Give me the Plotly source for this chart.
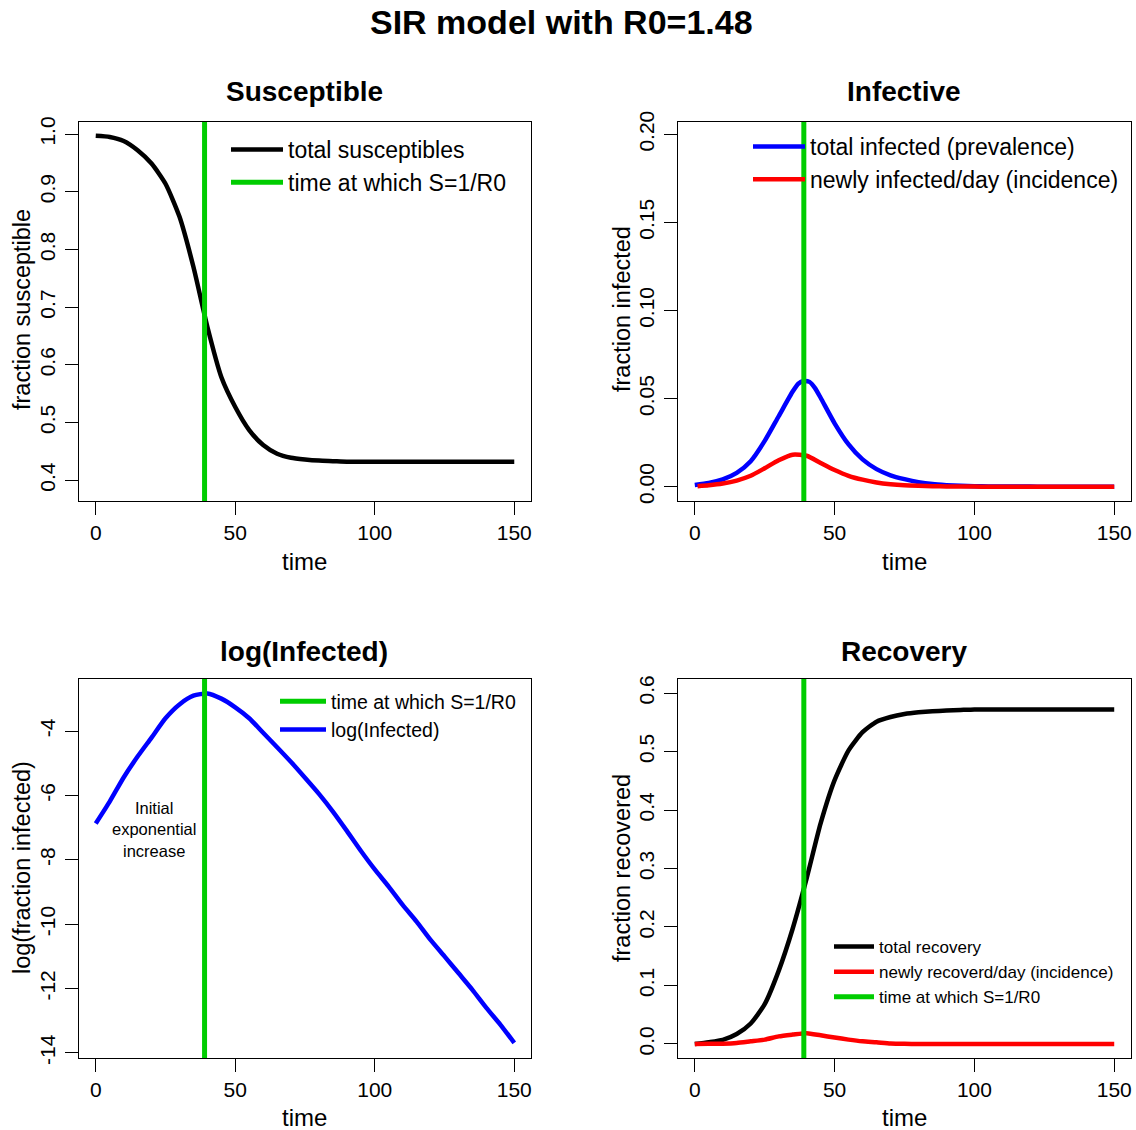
import plotly.graph_objects as go

FONT = "Liberation Sans, Arial, sans-serif"

# ---------------- data ----------------
t_star = 39  # time at which S = 1/R0

t_S = [0, 5, 10, 15, 20, 25, 30, 35, 40, 45, 50, 55, 60, 65, 70, 75, 80, 85, 90, 95,
       100, 105, 110, 115, 120, 125, 130, 135, 140, 145, 150]
susceptible = [0.997, 0.995, 0.988, 0.972, 0.949, 0.914, 0.857, 0.770, 0.666, 0.579,
               0.527, 0.487, 0.461, 0.446, 0.439, 0.436, 0.434, 0.433, 0.432, 0.432,
               0.432, 0.432, 0.432, 0.432, 0.432, 0.432, 0.432, 0.432, 0.432, 0.432, 0.432]

t_I = [0, 5, 10, 15, 20, 25, 30, 35, 37, 39, 41, 43, 45, 50, 55, 60, 65, 70, 75, 80, 85, 90, 95,
       100, 105, 110, 115, 120, 125, 130, 135, 140, 145, 150]
infected = [0.0010, 0.0021, 0.0042, 0.0079, 0.0145, 0.0260, 0.0400, 0.0540, 0.0585, 0.0600,
            0.0595, 0.0560, 0.0505, 0.0360, 0.0240, 0.0155, 0.0100, 0.0065, 0.0043, 0.0026,
            0.0015, 0.0009, 0.0005, 0.0003, 0.0002, 0.0001, 0.0001, 0.0001, 0.0000, 0.0000,
            0.0000, 0.0000, 0.0000, 0.0000]

t_inc = [1, 5, 10, 15, 20, 25, 30, 35, 40, 45, 50, 55, 60, 65, 70, 75, 80, 85, 90, 95,
         100, 105, 110, 115, 120, 125, 130, 135, 140, 145, 150]
incidence = [0.0003, 0.0008, 0.0018, 0.0035, 0.0062, 0.0105, 0.0150, 0.0182, 0.0176, 0.0135,
             0.0095, 0.0062, 0.0040, 0.0024, 0.0014, 0.0008, 0.0005, 0.0003, 0.0002, 0.0001,
             0.0001, 0.0000, 0.0000, 0.0000, 0.0000, 0.0000, 0.0000, 0.0000, 0.0000, 0.0000, 0.0000]

t_log = [0, 5, 10, 15, 20, 25, 30, 35, 40, 45, 50, 55, 60, 65, 70, 75, 80, 85, 90, 95,
         100, 105, 110, 115, 120, 125, 130, 135, 140, 145, 150]
log_infected = [-6.87, -6.19, -5.44, -4.79, -4.20, -3.60, -3.17, -2.90, -2.83, -2.99,
                -3.26, -3.60, -4.05, -4.50, -4.96, -5.45, -5.95, -6.50, -7.10, -7.72,
                -8.30, -8.83, -9.40, -9.92, -10.49, -11.00, -11.52, -12.04, -12.60, -13.12, -13.69]

t_R = [0, 5, 10, 15, 20, 25, 30, 35, 40, 45, 50, 55, 60, 65, 70, 75, 80, 85, 90, 95,
       100, 105, 110, 115, 120, 125, 130, 135, 140, 145, 150]
recovered = [0.000, 0.003, 0.007, 0.017, 0.035, 0.068, 0.125, 0.197, 0.283, 0.377,
             0.451, 0.502, 0.533, 0.551, 0.559, 0.564, 0.567, 0.569, 0.570, 0.571,
             0.572, 0.572, 0.572, 0.572, 0.572, 0.572, 0.572, 0.572, 0.572, 0.572, 0.572]
new_recovered = [0.0000, 0.0002, 0.0005, 0.0017, 0.0045, 0.0074, 0.0130, 0.0160, 0.0185, 0.0148,
                 0.0110, 0.0074, 0.0045, 0.0028, 0.0008, 0.0002, 0.0001, 0.0000, 0.0000, 0.0000,
                 0.0000, 0.0000, 0.0000, 0.0000, 0.0000, 0.0000, 0.0000, 0.0000, 0.0000, 0.0000, 0.0000]

x_ticks = [0, 50, 100, 150]
y1_ticks = [0.4, 0.5, 0.6, 0.7, 0.8, 0.9, 1.0]
y1_text = ["0.4", "0.5", "0.6", "0.7", "0.8", "0.9", "1.0"]
y2_ticks = [0.00, 0.05, 0.10, 0.15, 0.20]
y2_text = ["0.00", "0.05", "0.10", "0.15", "0.20"]
y3_ticks = [-14, -12, -10, -8, -6, -4]
y3_text = ["-14", "-12", "-10", "-8", "-6", "-4"]
y4_ticks = [0.0, 0.1, 0.2, 0.3, 0.4, 0.5, 0.6]
y4_text = ["0.0", "0.1", "0.2", "0.3", "0.4", "0.5", "0.6"]

# ---------------- styling ----------------
W, H = 1136, 1130
BLACK, BLUE, RED, GREEN = "#000000", "#0000FF", "#FF0000", "#00CD00"
LW = 4.5


def px_x(p):
    return p / W


def px_y(p):
    return 1 - p / H


fig = go.Figure()

spl = dict(shape="spline", smoothing=0.6)

# Panel 1
fig.add_trace(go.Scatter(x=t_S, y=susceptible, mode="lines", name="total susceptibles",
                         line=dict(color=BLACK, width=LW, **spl), xaxis="x", yaxis="y",
                         legend="legend", legendrank=1))
# Panel 2
fig.add_trace(go.Scatter(x=t_I, y=infected, mode="lines", name="total infected (prevalence)",
                         line=dict(color=BLUE, width=LW, **spl), xaxis="x2", yaxis="y2",
                         legend="legend2", legendrank=1))
fig.add_trace(go.Scatter(x=t_inc, y=incidence, mode="lines", name="newly infected/day (incidence)",
                         line=dict(color=RED, width=LW, **spl), xaxis="x2", yaxis="y2",
                         legend="legend2", legendrank=2))
# Panel 3
fig.add_trace(go.Scatter(x=t_log, y=log_infected, mode="lines", name="log(Infected)",
                         line=dict(color=BLUE, width=LW, **spl), xaxis="x3", yaxis="y3",
                         legend="legend3", legendrank=2))
# Panel 4
fig.add_trace(go.Scatter(x=t_R, y=recovered, mode="lines", name="total recovery",
                         line=dict(color=BLACK, width=LW, **spl), xaxis="x4", yaxis="y4",
                         legend="legend4", legendrank=1))
fig.add_trace(go.Scatter(x=t_R, y=new_recovered, mode="lines", name="newly recoverd/day (incidence)",
                         line=dict(color=RED, width=LW, **spl), xaxis="x4", yaxis="y4",
                         legend="legend4", legendrank=2))

# green vertical lines (time at which S=1/R0)
green_specs = [("x", "y", "legend", True, 3), ("x2", "y2", "legend2", False, 3),
               ("x3", "y3", "legend3", True, 1), ("x4", "y4", "legend4", True, 3)]
for xr, yr, lg, show, rank in green_specs:
    fig.add_shape(type="line", xref=xr, yref=yr + " domain", x0=t_star, x1=t_star, y0=0, y1=1,
                  line=dict(color=GREEN, width=5), layer="above",
                  showlegend=show, name="time at which S=1/R0", legend=lg, legendrank=rank)

# axes
dom_xL = [px_x(79), px_x(531)]
dom_xR = [px_x(678), px_x(1131)]
dom_yT = [px_y(501), px_y(122)]
dom_yB = [px_y(1058), px_y(679)]

axis_common = dict(showline=True, linecolor="black", linewidth=1, mirror=True,
                   ticks="outside", ticklen=13, tickwidth=1, tickcolor="black",
                   showgrid=False, zeroline=False, automargin=False,
                   tickfont=dict(family=FONT, size=21, color="black"))


def xax(dom, anchor):
    return dict(domain=dom, anchor=anchor, range=[-6, 156], tickvals=x_ticks,
                ticktext=[str(v) for v in x_ticks], ticklabelstandoff=0, **axis_common)


def yax(dom, anchor, rng, tv, tt):
    return dict(domain=dom, anchor=anchor, range=rng, tickvals=tv, ticktext=tt,
                tickangle=-90, ticklabelstandoff=2, **axis_common)


fig.update_layout(
    xaxis=xax(dom_xL, "y"),
    yaxis=yax(dom_yT, "x", [0.364, 1.021], y1_ticks, y1_text),
    xaxis2=xax(dom_xR, "y2"),
    yaxis2=yax(dom_yT, "x2", [-0.0081, 0.207], y2_ticks, y2_text),
    xaxis3=xax(dom_xL, "y3"),
    yaxis3=yax(dom_yB, "x3", [-14.16, -2.38], y3_ticks, y3_text),
    xaxis4=xax(dom_xR, "y4"),
    yaxis4=yax(dom_yB, "x4", [-0.024, 0.624], y4_ticks, y4_text),
)


# legends
def leg(x_px, y_px, size, iw):
    return dict(x=px_x(x_px), y=px_y(y_px), xanchor="left", yanchor="top",
                bgcolor="rgba(0,0,0,0)", borderwidth=0, itemwidth=iw,
                font=dict(family=FONT, size=size, color="black"),
                traceorder="normal", tracegroupgap=0)


fig.update_layout(
    legend=leg(226, 128, 23, 52),
    legend2=leg(748, 125, 23, 52),
    legend3=leg(275, 682, 19.5, 46),
    legend4=leg(829, 929, 17, 40),
)

# text annotations
ann = []


def add_text(txt, cx, cy, size, angle=0):
    ann.append(dict(text=txt, x=px_x(cx), y=px_y(cy), xref="paper", yref="paper",
                    xanchor="center", yanchor="middle", textangle=angle,
                    showarrow=False, font=dict(family=FONT, size=size, color="black")))


add_text("<b>SIR model with R0=1.48</b>", 561, 22, 34)
for txt, cx, cy in [("Susceptible", 304, 92), ("Infective", 904, 92),
                    ("log(Infected)", 304, 651), ("Recovery", 904, 651)]:
    add_text("<b>" + txt + "</b>", cx, cy, 28)
for cx, cy in [(304, 561), (904, 561), (304, 1117), (904, 1117)]:
    add_text("time", cx, cy, 24)
for txt, cx, cy in [("fraction susceptible", 22, 310), ("fraction infected", 622, 309),
                    ("log(fraction infected)", 22, 868), ("fraction recovered", 622, 868)]:
    add_text(txt, cx, cy, 23.5, -90)

ann.append(dict(text="Initial<br>exponential<br>increase", x=21, y=-7.07, xref="x3", yref="y3",
                xanchor="center", yanchor="middle",
                showarrow=False, align="center", font=dict(family=FONT, size=16.5, color="black")))

fig.update_layout(
    annotations=ann,
    width=W, height=H,
    margin=dict(l=0, r=0, t=0, b=0, autoexpand=False),
    paper_bgcolor="white", plot_bgcolor="white",
    showlegend=True,
    font=dict(family=FONT, color="black"),
)

fig.write_html("out.html")
